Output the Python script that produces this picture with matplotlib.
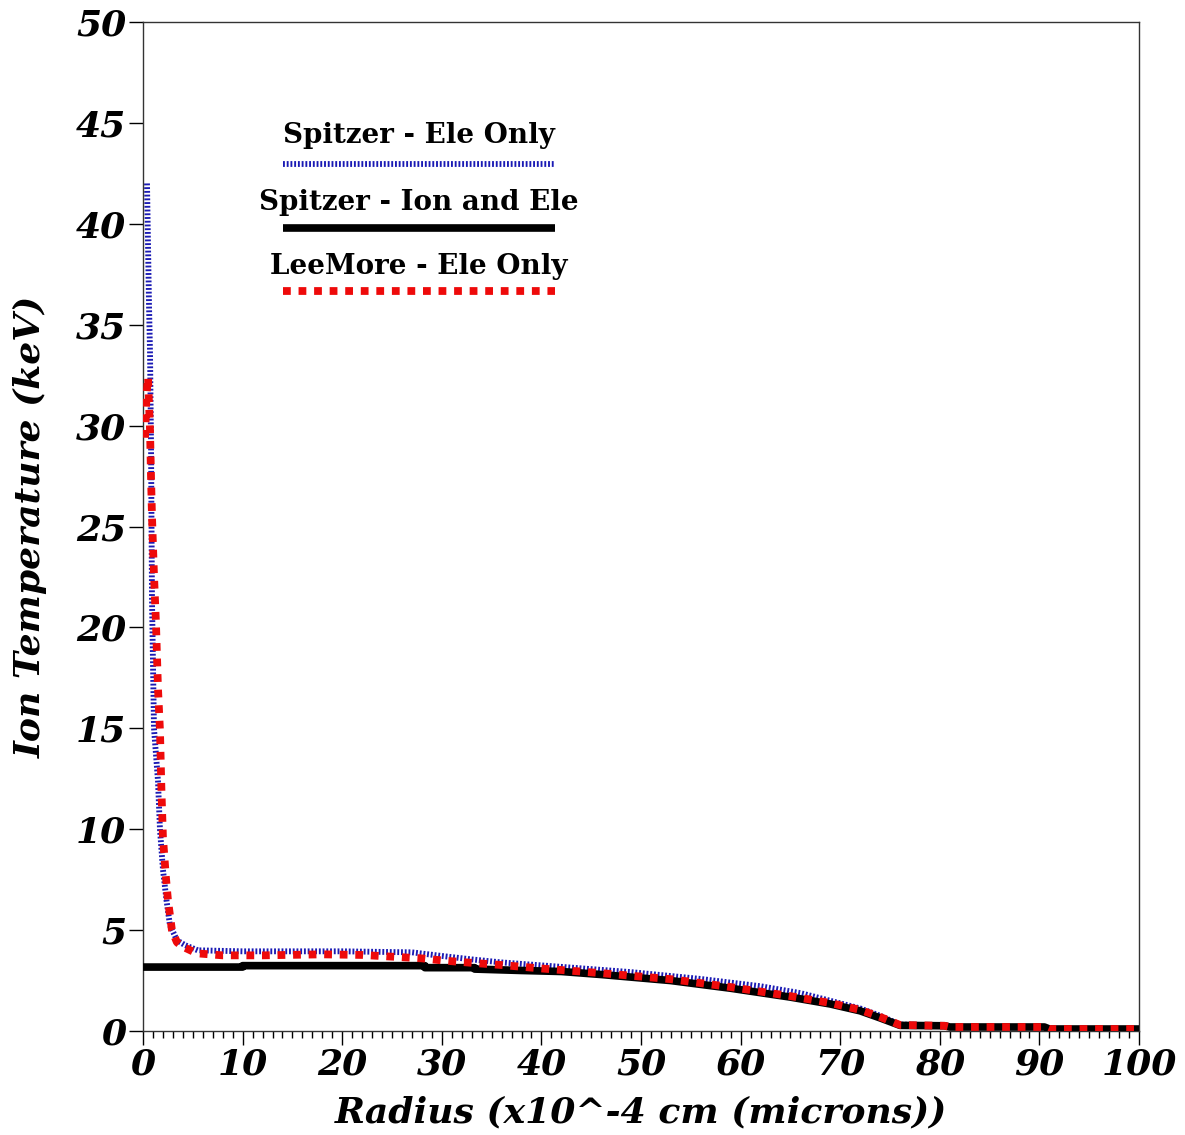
import matplotlib
matplotlib.use("Agg")
import matplotlib.pyplot as plt
from matplotlib.ticker import MultipleLocator

# Spitzer - Ele Only
blue_x = [0.4, 0.6, 0.7, 0.8, 0.9, 1.1, 1.5, 1.7, 2.0, 2.35, 2.7, 3.4, 4.2, 5.5, 10, 20, 27, 30, 33, 36,
          42, 49, 56, 62, 66, 69, 72, 74, 76, 80.5, 81, 90.5, 91, 100]
blue_y = [42.0, 36.0, 33.7, 29.3, 21.4, 15.0, 12.4, 10.0, 8.0, 6.5, 5.25, 4.5, 4.26, 4.0, 3.95, 3.95, 3.9, 3.72, 3.55, 3.4,
          3.18, 2.92, 2.58, 2.22, 1.88, 1.5, 1.12, 0.76, 0.32, 0.28, 0.2, 0.2, 0.1, 0.1]

# Spitzer - Ion and Ele
black_x = [0, 10, 10, 28.3, 28.3, 33.3, 33.3, 38, 42, 46, 53, 59, 65, 69, 72, 74, 76, 80.5, 81, 90.5, 91, 100]
black_y = [3.17, 3.17, 3.24, 3.24, 3.14, 3.14, 3.07, 3.0, 2.95, 2.8, 2.5, 2.12, 1.68, 1.34, 1.0, 0.65, 0.28, 0.26, 0.2, 0.2, 0.1, 0.1]

# LeeMore - Ele Only
red_x = [0.2, 0.35, 0.5, 0.7, 0.8, 0.9, 1.1, 1.3, 1.5, 1.7, 1.85, 2.0, 2.3, 2.5, 2.9, 3.4, 3.9, 5.4, 8, 12, 18, 22,
         28, 30, 33, 36, 40, 46, 53, 59, 65, 69, 72, 74, 76, 80.5, 81, 90.5, 91, 100]
red_y = [29.4, 31.5, 32.4, 29.8, 27.5, 25.5, 22.6, 20.2, 17.0, 14.9, 11.9, 9.6, 7.6, 6.5, 5.0, 4.4, 4.2, 3.85, 3.75, 3.75, 3.8, 3.77,
         3.6, 3.5, 3.38, 3.27, 3.1, 2.87, 2.57, 2.18, 1.73, 1.39, 1.05, 0.7, 0.3, 0.26, 0.2, 0.2, 0.1, 0.1]

labels = ["Spitzer - Ele Only", "Spitzer - Ion and Ele", "LeeMore - Ele Only"]

plt.rcParams['font.family'] = ['DejaVu Serif']

fig = plt.figure(figsize=(11.85, 11.35), dpi=100)
ax = fig.add_axes([0.1207, 0.0916, 0.8405, 0.889])

blue_style = dict(color='#1a1ab4', lw=4.2, linestyle=(0, (0.32, 0.32)), solid_capstyle='butt', dash_capstyle='butt')
black_style = dict(color='black', lw=5.5, solid_capstyle='butt')
red_style = dict(color='#ee0a0a', lw=5.6, linestyle=(0, (1.0, 1.0)), dash_capstyle='butt')

ax.plot(blue_x, blue_y, zorder=2, **blue_style)
ax.plot(black_x, black_y, zorder=3, **black_style)
ax.plot(red_x, red_y, zorder=4, **red_style)

ax.set_xlim(0, 100)
ax.set_ylim(0, 50)
ax.xaxis.set_major_locator(MultipleLocator(10))
ax.xaxis.set_minor_locator(MultipleLocator(1))
ax.yaxis.set_major_locator(MultipleLocator(5))
ax.tick_params(axis='both', which='major', direction='out', length=10, width=1, labelsize=26, pad=2)
ax.tick_params(axis='x', which='minor', direction='out', length=5, width=1)
for lab in ax.get_xticklabels() + ax.get_yticklabels():
    lab.set_fontweight('bold')
    lab.set_fontstyle('italic')
for sp in ax.spines.values():
    sp.set_linewidth(1.0)
    sp.set_color('#333333')

ax.set_xlabel("Radius (x10^-4 cm (microns))", fontsize=26, fontweight='bold', fontstyle='italic', labelpad=10)
ax.set_ylabel("Ion Temperature (keV)", fontsize=26, fontweight='bold', fontstyle='italic', labelpad=20)

# legend drawn as text with a line sample under each entry
styles = [blue_style, black_style, red_style]
text_y = [0.888, 0.8215, 0.758]
line_y = [0.859, 0.7958, 0.7334]
for lab, st, ty, ly in zip(labels, styles, text_y, line_y):
    ax.text(0.277, ty, lab, transform=ax.transAxes, ha='center', va='center',
            fontsize=20, fontweight='bold')
    ax.plot([0.1405, 0.4135], [ly, ly], transform=ax.transAxes, clip_on=False, **st)

fig.savefig("out.png", dpi=100)
